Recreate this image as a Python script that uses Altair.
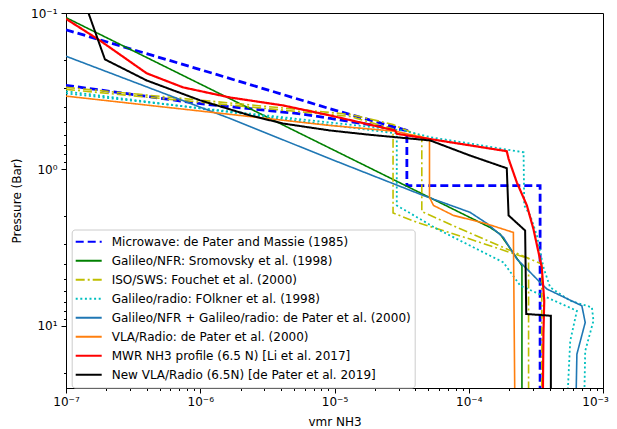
import json

import altair as alt
import pandas as pd

# --- data (vmr, pressure in bar) ---
series_labels = [
    "Microwave: de Pater and Massie (1985)",
    "Galileo/NFR: Sromovsky et al. (1998)",
    "ISO/SWS: Fouchet et al. (2000)",
    "Galileo/radio: FOlkner et al. (1998)",
    "Galileo/NFR + Galileo/radio: de Pater et al. (2000)",
    "VLA/Radio: de Pater et al. (2000)",
    "MWR NH3 profile (6.5 N) [Li et al. 2017]",
    "New VLA/Radio (6.5N) [de Pater et al. 2019]",
]

microwave_a_vmr = [1e-7, 1e-6, 9.3e-6, 3.46e-5, 3.46e-5, 3.4e-4, 3.4e-4]
microwave_a_p = [0.128, 0.23, 0.41, 0.564, 1.27, 1.27, 25]
microwave_b_vmr = [1e-7, 1e-6, 5.55e-6, 9.3e-6, 3.46e-5]
microwave_b_p = [0.29, 0.38, 0.441, 0.472, 0.564]

nfr_vmr = [1e-7, 1.44e-4, 1.71e-4, 2.09e-4, 2.49e-4, 2.49e-4]
nfr_p = [0.107, 2.35, 2.59, 3.31, 4.13, 25]

iso_a_vmr = [1e-7, 1.31e-5, 2.73e-5, 2.73e-5, 4.1e-5, 1.02e-4, 2.79e-4, 2.79e-4]
iso_a_p = [0.308, 0.459, 0.551, 1.90, 2.18, 2.79, 3.72, 25]
iso_b_vmr = [1e-7, 1.31e-5, 2.73e-5, 4.47e-5, 4.47e-5, 8.63e-5, 3.5e-4, 3.5e-4]
iso_b_p = [0.299, 0.445, 0.516, 0.622, 1.86, 2.40, 4.03, 25]

radio_a_vmr = [1e-7, 2.91e-5, 2.91e-5, 5.79e-5, 1.02e-4, 1.81e-4, 2.42e-4,
               3.82e-4, 6.39e-4, 5.7e-4, 5.48e-4]
radio_a_p = [0.317, 0.589, 1.70, 2.40, 3.07, 3.93, 5.54, 6.59, 8.02, 12.5, 25]
radio_b_vmr = [1e-7, 3.26e-5, 5.16e-5, 2.56e-4, 2.59e-4, 2.87e-4, 3.22e-4,
               3.6e-4, 4.04e-4, 5.7e-4, 8.27e-4, 8.49e-4, 7.37e-4, 7.28e-4]
radio_b_p = [0.327, 0.564, 0.622, 0.777, 1.70, 1.97, 2.65, 4.23, 5.68, 6.92,
             7.63, 9.29, 14.5, 25]

combo_vmr = [1e-7, 1.67e-6, 9.27e-6, 4.6e-5, 1.02e-4, 1.36e-4, 1.81e-4, 2.28e-4,
             2.79e-4, 3.4e-4, 3.82e-4, 6.96e-4, 7.37e-4, 6.39e-4, 6.32e-4]
combo_p = [0.189, 0.473, 0.856, 1.47, 1.88, 2.21, 2.72, 3.74, 4.44, 5.28, 5.82,
           7.45, 9.53, 15.2, 25]

vla_vmr = [1e-7, 9.27e-6, 2.83e-5, 5.1e-5, 5.1e-5, 5.46e-5, 7.69e-5, 1.36e-4,
           2.15e-4, 2.2e-4]
vla_p = [0.34, 0.524, 0.57, 0.637, 1.51, 1.70, 1.97, 2.23, 2.53, 25]

mwr_vmr = [1e-7, 1.79e-7, 3.99e-7, 7.45e-7, 1.67e-6, 4.14e-6, 9.27e-6, 2.83e-5,
           2.91e-5, 1.92e-4, 1.98e-4, 2.28e-4, 2.71e-4, 3.03e-4, 3.5e-4, 3.65e-4,
           3.6e-4, 3.57e-4]
mwr_p = [0.109, 0.15, 0.243, 0.299, 0.347, 0.39, 0.452, 0.564, 0.592, 0.765,
         0.856, 1.21, 1.70, 2.40, 4.23, 6.92, 11.25, 25]

new_vla_vmr = [1.47e-7, 1.95e-7, 3.99e-7, 1.0e-6, 2.35e-6, 4.14e-6, 9.27e-6,
               1.84e-5, 5.16e-5, 1.02e-4, 1.92e-4, 1.98e-4, 2.63e-4, 2.68e-4,
               4.09e-4, 4.09e-4]
new_vla_p = [0.1, 0.198, 0.27, 0.362, 0.452, 0.509, 0.564, 0.601, 0.653, 0.815,
             0.983, 1.97, 2.46, 8.41, 8.63, 25]

x_ticks = [1e-7, 1e-6, 1e-5, 1e-4, 1e-3]
x_tick_labels = ["10⁻⁷", "10⁻⁶", "10⁻⁵", "10⁻⁴", "10⁻³"]
y_ticks = [0.1, 1, 10]
y_tick_labels = ["10⁻¹", "10⁰", "10¹"]
x_minor = [m * d for d in [1e-7, 1e-6, 1e-5, 1e-4] for m in range(2, 10)]
y_minor = [0.2, 0.3, 0.4, 0.5, 0.6, 0.7, 0.8, 0.9, 2, 3, 4, 5, 6, 7, 8, 9, 20]

# --- styles ---
colors = ["#0000ff", "#008000", "#bfbf00", "#00bfbf", "#1f77b4", "#ff7f0e", "#ff0000", "#000000"]
dashes = [[8, 4], [1, 0], [9, 3, 2, 3], [2, 2.6], [1, 0], [1, 0], [1, 0], [1, 0]]
widths = [2.8, 1.6, 1.6, 1.8, 1.6, 1.6, 2.2, 2.0]

curves = [
    (0, "a", microwave_a_vmr, microwave_a_p),
    (0, "b", microwave_b_vmr, microwave_b_p),
    (1, "a", nfr_vmr, nfr_p),
    (2, "a", iso_a_vmr, iso_a_p),
    (2, "b", iso_b_vmr, iso_b_p),
    (3, "a", radio_a_vmr, radio_a_p),
    (3, "b", radio_b_vmr, radio_b_p),
    (4, "a", combo_vmr, combo_p),
    (5, "a", vla_vmr, vla_p),
    (6, "a", mwr_vmr, mwr_p),
    (7, "a", new_vla_vmr, new_vla_p),
]

rows = []
for k, seg, vmr, p in curves:
    for i, (v, pp) in enumerate(zip(vmr, p)):
        rows.append({"series": series_labels[k], "seg": seg, "i": i, "vmr": v, "p": pp})
df = pd.DataFrame(rows)

FONT = "DejaVu Sans"


def label_expr(values, labels):
    return f"{json.dumps(labels, ensure_ascii=False)}[indexof({json.dumps(values)}, datum.value)]"


x_scale = alt.Scale(type="log", domain=[1e-7, 1e-3], nice=False)
y_scale = alt.Scale(type="log", domain=[0.1, 25], nice=False, reverse=True)

base = alt.Chart(df)

major = base.mark_point(opacity=0).encode(
    x=alt.X("vmr:Q", scale=x_scale, axis=alt.Axis(
        values=x_ticks, labelExpr=label_expr(x_ticks, x_tick_labels), orient="bottom",
        title="vmr NH3", tickSize=5, labelPadding=3, labelFlush=False, labelOverlap=False,
        # last label would run off the page edge: nudge it inward a little
        labelOffset={"condition": {"test": "datum.value === 0.001", "value": -8}, "value": 0},
        titleY=37, titleBaseline="alphabetic")),
    y=alt.Y("p:Q", scale=y_scale, axis=alt.Axis(
        values=y_ticks, labelExpr=label_expr(y_ticks, y_tick_labels), orient="left",
        title="Pressure (Bar)", tickSize=5, labelPadding=4, labelOverlap=False,
        titleX=-50, titleY=187.5, titleAlign="center", titleBaseline="middle")),
)

minor = base.mark_point(opacity=0).encode(
    x=alt.X("vmr:Q", scale=x_scale, axis=alt.Axis(
        values=x_minor, labels=False, orient="bottom", title=None, tickSize=2.5,
        domain=False, labelOverlap=False)),
    y=alt.Y("p:Q", scale=y_scale, axis=alt.Axis(
        values=y_minor, labels=False, orient="left", title=None, tickSize=2.5,
        domain=False, labelOverlap=False)),
)

legend = alt.Legend(title=None, orient="none", legendX=5.7, legendY=216.5)

layers = [major, minor]
for k, label in enumerate(series_labels):
    layers.append(
        base.transform_filter(alt.datum.series == label)
        .mark_line(strokeWidth=widths[k], clip=True)
        .encode(
            x=alt.X("vmr:Q", scale=x_scale, axis=None),
            y=alt.Y("p:Q", scale=y_scale, axis=None),
            color=alt.Color("series:N", scale=alt.Scale(domain=series_labels, range=colors), legend=legend),
            strokeDash=alt.StrokeDash("series:N", scale=alt.Scale(domain=series_labels, range=dashes), legend=legend),
            detail="seg:N",
            order="i:Q",
        )
    )

chart = (
    alt.layer(*layers)
    .resolve_axis(x="independent", y="independent")
    .properties(
        width=537,
        height=375,
        autosize=alt.AutoSizeParams(type="none"),
        padding={"left": 58, "top": 5, "right": 6, "bottom": 44},
    )
    .configure_view(stroke="black", strokeWidth=1)
    .configure_axis(
        grid=False, domainColor="black", tickColor="black", labelColor="black",
        titleColor="black", labelFont=FONT, titleFont=FONT, labelFontSize=12,
        titleFontSize=12, titleFontWeight="normal",
    )
    .configure_legend(
        symbolType="stroke", symbolSize=676, symbolStrokeWidth=2, clipHeight=18.3,
        rowPadding=0, labelOffset=9, labelFont=FONT, labelFontSize=12, labelColor="black",
        padding=3, fillColor="rgba(255,255,255,0.8)", strokeColor="#cccccc",
        cornerRadius=3, labelLimit=400,
    )
)

chart.save("out.html", embed_options={"renderer": "svg", "actions": False})
